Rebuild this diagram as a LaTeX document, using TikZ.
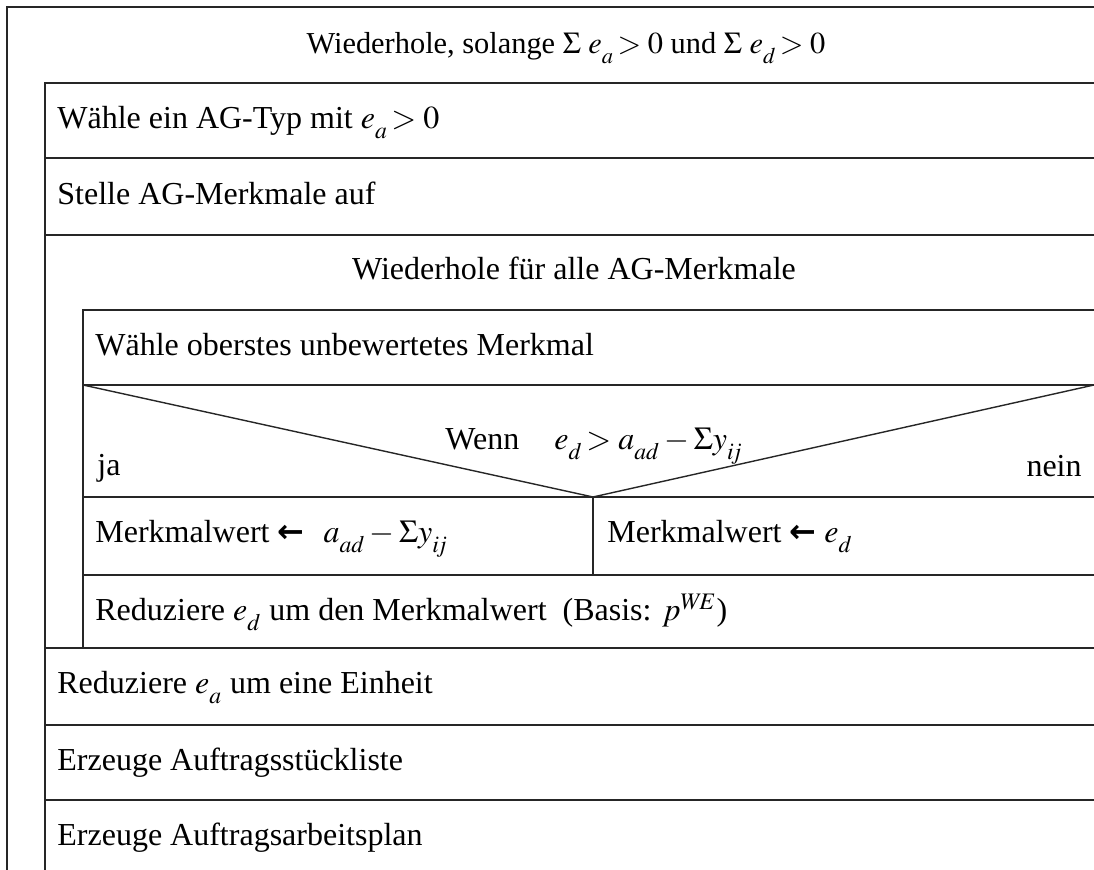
\documentclass[tikz,border=0pt]{standalone}
\usepackage{mathptmx}
\usepackage{fontspec}
\setmainfont{Liberation Serif}
\newfontfamily\arrowfont{DejaVu Sans}
\newcommand\lsub[1]{_{\lower0.35ex\hbox{$\scriptstyle #1$}}}
\begin{document}
\begin{tikzpicture}[x=0.5pt,y=-0.5pt,
  rule/.style={draw=black!85,line width=0.7pt},
  txt/.style={font=\fontsize{16}{19}\selectfont,inner sep=0pt,anchor=base west},
  ctxt/.style={font=\fontsize{16}{19}\selectfont,inner sep=0pt,anchor=base}]
\useasboundingbox (0,0) rectangle (1094,870);
% frame lines
\draw[rule] (7,870) -- (7,7) -- (1094,7);
\draw[rule] (45,870) -- (45,83) -- (1094,83);
\draw[rule] (45,158) -- (1094,158);
\draw[rule] (45,235) -- (1094,235);
\draw[rule] (83,648) -- (83,310) -- (1094,310);
\draw[rule] (83,385) -- (1094,385);
\draw[rule] (83,497) -- (1094,497);
\draw[rule] (83,575) -- (1094,575);
\draw[rule] (45,648) -- (1094,648);
\draw[rule] (45,725) -- (1094,725);
\draw[rule] (45,800) -- (1094,800);
% decision
\coordinate (tip) at (593,497);
\draw[rule] (83,385) -- (tip) -- (1094,385);
\draw[rule] (tip) -- (593,575);
% texts
\node[ctxt,font=\fontsize{15.2}{18}\selectfont] (t1) at (566,54) {Wiederhole, solange $\Sigma\ e\lsub{a}\! > 0$ und $\Sigma\ e\lsub{d}\! > 0$};
\node[txt] (t2) at (57,129) {Wähle ein AG-Typ mit $e\lsub{a}\! > 0$};
\node[txt] (t3) at (57,205) {Stelle AG-Merkmale auf};
\node[ctxt] (t4) at (574,280) {Wiederhole für alle AG-Merkmale};
\node[txt] (t5) at (95,356) {Wähle oberstes unbewertetes Merkmal};
\node[txt] (t6) at (445,450) {Wenn\hspace{1.1em}$e\lsub{d}\! > a\lsub{ad} - \Sigma y\lsub{i\!j}$};
\node[txt] (t7) at (97,476) {ja};
\node[txt,anchor=base east] (t8) at (1082,477) {nein};
\node[txt] (t9) at (95,543) {Merkmalwert {\arrowfont\bfseries ←}\hspace{0.6em}$a\lsub{ad} - \Sigma y\lsub{i\!j}$};
\node[txt] (t10) at (607,543) {Merkmalwert {\arrowfont\bfseries ←} $e\lsub{d}$};
\node[txt] (t11) at (95,621) {Reduziere $e\lsub{d}$ um den Merkmalwert\ \ (Basis: $p^{W\!E}$)};
\node[txt] (t12) at (57,694) {Reduziere $e\lsub{a}$ um eine Einheit};
\node[txt] (t13) at (57,771) {Erzeuge Auftragsstückliste};
\node[txt] (t14) at (57,846) {Erzeuge Auftragsarbeitsplan};
\end{tikzpicture}
\end{document}
